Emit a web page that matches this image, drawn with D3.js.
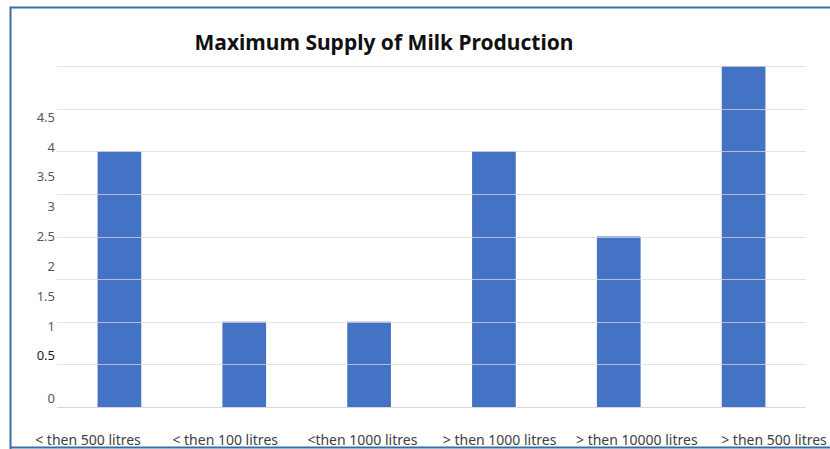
<!DOCTYPE html>
<meta charset="utf-8">
<style type="text/css">
    body { margin: 0; background: white; overflow: hidden; }
    svg { display: block; }
    svg text { font-family: "Noto Sans", "Open Sans", sans-serif; }
    svg .bar { fill: #4472c4 }
    svg .grid line { stroke: #d9d9d9; stroke-width: 1.2 }
    svg .ylab { fill: #595959; font-size: 13px }
    svg .xlab { fill: #404040; font-size: 14px }
</style>
<body>
<script src="https://cdn.jsdelivr.net/npm/d3@7"></script>
<script>
    // data
    var categories = ["< then 500 litres", "< then 100 litres", "<then 1000 litres",
                      "> then 1000 litres", "> then 10000 litres", "> then 500 litres"];
    var values = [3, 1, 1, 3, 2, 4];
    var tickLabels = ["0", "0.5", "1", "1.5", "2", "2.5", "3", "3.5", "4", "4.5"];
    var title = "Maximum Supply of Milk Production";

    var w = 830, h = 449;
    var plotL = 57, plotR = 806, plotT = 66, plotB = 407;

    var svg = d3.select("body").append("svg")
                .attr("width", w)
                .attr("height", h);

    // frame
    svg.append("path")
        .attr("d", "M10.5," + h + "V7.5H" + w)
        .attr("fill", "none").attr("stroke", "#3a6ea5").attr("stroke-width", 2);
    svg.append("line")
        .attr("x1", 10).attr("x2", w).attr("y1", 447.5).attr("y2", 447.5)
        .attr("stroke", "#3a6ea5").attr("stroke-width", 2);

    var x = d3.scaleBand().domain(categories).range([plotL, plotR]).paddingInner(0.65).paddingOuter(0.325);
    var y = d3.scaleLinear().domain([0, 4]).range([plotB, plotT]);

    svg.selectAll("rect.bar")
        .data(values)
        .enter()
        .append("rect")
        .attr("class", "bar")
        .attr("x", function(d, i) { return x(categories[i]) })
        .attr("y", function(d) { return y(d) })
        .attr("width", x.bandwidth())
        .attr("height", function(d) { return y(0) - y(d) });

    // gridlines go over the bars
    svg.append("g").attr("class", "grid")
        .selectAll("line")
        .data(y.ticks(8))
        .enter()
        .append("line")
        .attr("x1", plotL).attr("x2", plotR)
        .attr("y1", function(d) { return Math.round(y(d)) + 0.5 })
        .attr("y2", function(d) { return Math.round(y(d)) + 0.5 })
        .attr("stroke-opacity", function(d) { return d == 0 ? 1 : 0.75 });

    // tick labels sit a bit off the grid, as in the picture
    var labY = d3.scaleLinear().domain([0.5, 4.5]).range([y(0.6), y(3.4)]);
    svg.selectAll("text.ylab")
        .data(tickLabels)
        .enter()
        .append("text")
        .attr("class", "ylab")
        .attr("x", 55)
        .attr("y", function(d) { return +d == 0 ? y(0) - 9 : labY(+d) })
        .attr("dy", "0.35em")
        .attr("text-anchor", "end")
        .style("fill", function(d) { return d == "0.5" ? "#1a1a1a" : null })
        .text(function(d) { return d });

    var labX = d3.scalePoint().domain(categories).range([88, 774]);
    svg.selectAll("text.xlab")
        .data(categories)
        .enter()
        .append("text")
        .attr("class", "xlab")
        .attr("x", function(d) { return labX(d) })
        .attr("y", 445)
        .attr("text-anchor", "middle")
        .text(function(d) { return d });

    svg.append("text")
        .attr("x", 384).attr("y", 50)
        .attr("text-anchor", "middle")
        .style("font-size", "21px").style("font-weight", "bold").style("fill", "#111")
        .text(title);
</script>
</body>
